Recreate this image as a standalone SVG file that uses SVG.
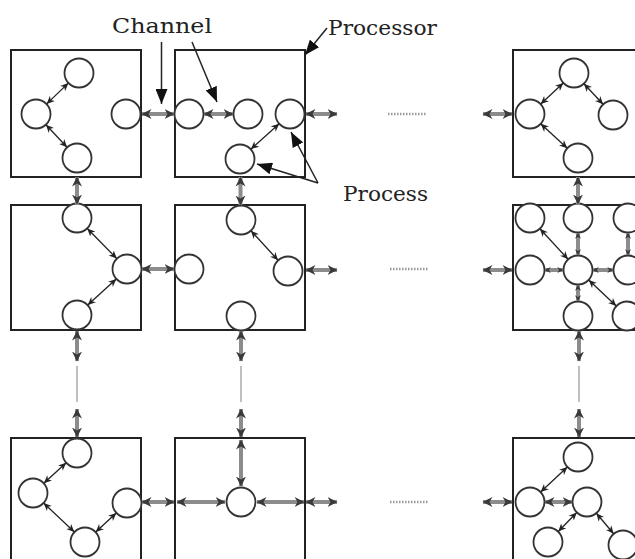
<svg xmlns="http://www.w3.org/2000/svg" width="635" height="559" viewBox="0 0 635 559">
<style>
.box{fill:none;stroke:#222;stroke-width:2}
.pr{fill:#fff;stroke:#333;stroke-width:1.8}
.th{stroke:#222;stroke-width:1.3;fill:none;marker-start:url(#mth);marker-end:url(#mth)}
.ch{stroke:#8c8c8c;stroke-width:4;fill:none;marker-start:url(#mch);marker-end:url(#mch)}
.cs{stroke:#8c8c8c;stroke-width:4;fill:none;marker-start:url(#mcs);marker-end:url(#mcs)}
.an{stroke:#222;stroke-width:1.5;fill:none;marker-end:url(#man)}
.dots{stroke:#9a9a9a;stroke-width:2.5;stroke-dasharray:1.5 1.5;fill:none}
.cont{stroke:#aaa;stroke-width:1.5;fill:none}
.lbl{font-family:"DejaVu Serif","Liberation Serif",serif;font-size:21px;fill:#222}
</style>
<defs>
<marker id="mth" viewBox="0 0 10 10" refX="9.5" refY="5" markerWidth="8" markerHeight="8" markerUnits="userSpaceOnUse" orient="auto-start-reverse"><path d="M0,0.5 L10,5 L0,9.5 L3,5 z" fill="#222"/></marker>
<marker id="mch" viewBox="0 0 10 10" refX="9.5" refY="5" markerWidth="10" markerHeight="11" markerUnits="userSpaceOnUse" orient="auto-start-reverse"><path d="M0,0 L10,5 L0,10 L3,5 z" fill="#3a3a3a"/></marker>
<marker id="mcs" viewBox="0 0 10 10" refX="9.5" refY="5" markerWidth="6" markerHeight="9" markerUnits="userSpaceOnUse" orient="auto-start-reverse"><path d="M0,0 L10,5 L0,10 L3,5 z" fill="#3a3a3a"/></marker>
<marker id="man" viewBox="0 0 15 12" refX="15" refY="6" markerWidth="15" markerHeight="12" markerUnits="userSpaceOnUse" orient="auto"><path d="M0,0 L15,6 L0,12 z" fill="#111"/></marker>
</defs>
<rect width="635" height="559" fill="#fff"/>

<g id="labels">
<text class="lbl" x="112" y="33" textLength="100" lengthAdjust="spacingAndGlyphs">Channel</text>
<text class="lbl" x="328" y="35" textLength="109" lengthAdjust="spacingAndGlyphs">Processor</text>
<text class="lbl" x="343" y="201" textLength="85" lengthAdjust="spacingAndGlyphs">Process</text>
</g>

<g id="proc-1-1"><rect class="box" x="11" y="50" width="130" height="127"/>
<g id="p111"><circle class="pr" cx="79" cy="73" r="14.5"/></g>
<g id="p112"><circle class="pr" cx="36" cy="114" r="14.5"/></g>
<g id="p113"><circle class="pr" cx="126" cy="114" r="14.5"/></g>
<g id="p114"><circle class="pr" cx="77" cy="158" r="14.5"/></g>
</g>
<g id="proc-1-2"><rect class="box" x="175" y="50" width="130" height="127"/>
<g id="p121"><circle class="pr" cx="189" cy="114" r="14.5"/></g>
<g id="p122"><circle class="pr" cx="248" cy="114" r="14.5"/></g>
<g id="p123"><circle class="pr" cx="290" cy="114" r="14.5"/></g>
<g id="p124"><circle class="pr" cx="240" cy="159" r="14.5"/></g>
</g>
<g id="proc-1-3"><rect class="box" x="513" y="50" width="130" height="127"/>
<g id="p131"><circle class="pr" cx="574" cy="73" r="14.5"/></g>
<g id="p132"><circle class="pr" cx="530" cy="114" r="14.5"/></g>
<g id="p133"><circle class="pr" cx="613" cy="115" r="14.5"/></g>
<g id="p134"><circle class="pr" cx="578" cy="158" r="14.5"/></g>
</g>

<g id="proc-2-1"><rect class="box" x="11" y="205" width="130" height="125"/>
<g id="p211"><circle class="pr" cx="77" cy="218" r="14.5"/></g>
<g id="p212"><circle class="pr" cx="127" cy="269" r="14.5"/></g>
<g id="p213"><circle class="pr" cx="77" cy="315" r="14.5"/></g>
</g>
<g id="proc-2-2"><rect class="box" x="175" y="205" width="130" height="125"/>
<g id="p221"><circle class="pr" cx="189" cy="269" r="14.5"/></g>
<g id="p222"><circle class="pr" cx="241" cy="220" r="14.5"/></g>
<g id="p223"><circle class="pr" cx="288" cy="271" r="14.5"/></g>
<g id="p224"><circle class="pr" cx="241" cy="316" r="14.5"/></g>
</g>
<g id="proc-2-3"><rect class="box" x="513" y="205" width="130" height="125"/>
<g id="p231"><circle class="pr" cx="530" cy="218" r="14.5"/></g>
<g id="p232"><circle class="pr" cx="578" cy="218" r="14.5"/></g>
<g id="p233"><circle class="pr" cx="628" cy="218" r="14.5"/></g>
<g id="p234"><circle class="pr" cx="530" cy="270" r="14.5"/></g>
<g id="p235"><circle class="pr" cx="578" cy="270" r="14.5"/></g>
<g id="p236"><circle class="pr" cx="628" cy="270" r="14.5"/></g>
<g id="p237"><circle class="pr" cx="578" cy="316" r="14.5"/></g>
<g id="p238"><circle class="pr" cx="627" cy="316" r="14.5"/></g>
</g>

<g id="proc-3-1"><rect class="box" x="11" y="438" width="130" height="127"/>
<g id="p311"><circle class="pr" cx="77" cy="453" r="14.5"/></g>
<g id="p312"><circle class="pr" cx="33" cy="493" r="14.5"/></g>
<g id="p313"><circle class="pr" cx="127" cy="503" r="14.5"/></g>
<g id="p314"><circle class="pr" cx="85" cy="542" r="14.5"/></g>
</g>
<g id="proc-3-2"><rect class="box" x="175" y="438" width="130" height="127"/>
<g id="p321"><circle class="pr" cx="241" cy="502" r="14.5"/></g>
</g>
<g id="proc-3-3"><rect class="box" x="513" y="438" width="130" height="127"/>
<g id="p331"><circle class="pr" cx="578" cy="457" r="14.5"/></g>
<g id="p332"><circle class="pr" cx="530" cy="502" r="14.5"/></g>
<g id="p333"><circle class="pr" cx="587" cy="502" r="14.5"/></g>
<g id="p334"><circle class="pr" cx="548" cy="542" r="14.5"/></g>
<g id="p335"><circle class="pr" cx="623" cy="545" r="14.5"/></g>
</g>

<g id="connectors">
<line class="th" x1="68.1" y1="83.4" x2="46.9" y2="103.6"/>
<line class="th" x1="46.2" y1="125" x2="66.8" y2="147"/>
<line class="ch" x1="142" y1="114" x2="174" y2="114"/>
<line class="ch" x1="204" y1="114" x2="233" y2="114"/>
<line class="th" x1="278.9" y1="124" x2="251.1" y2="149"/>
<line class="ch" x1="306" y1="114" x2="337" y2="114"/>
<line class="th" x1="563" y1="83.2" x2="541" y2="103.8"/>
<line class="th" x1="584.2" y1="84" x2="602.8" y2="104"/>
<line class="th" x1="541" y1="124.1" x2="567" y2="147.9"/>
<line class="ch" x1="483" y1="114" x2="512" y2="114"/>
<line class="ch" x1="77" y1="177" x2="77" y2="204"/>
<line class="ch" x1="240.5" y1="177" x2="240.5" y2="205"/>
<line class="ch" x1="578" y1="177" x2="578" y2="204"/>
<line class="th" x1="87.5" y1="228.7" x2="116.5" y2="258.3"/>
<line class="th" x1="116" y1="279.2" x2="88" y2="304.8"/>
<line class="ch" x1="142" y1="269" x2="174" y2="269"/>
<line class="th" x1="251.2" y1="231" x2="277.8" y2="260"/>
<line class="ch" x1="306" y1="270" x2="337" y2="270"/>
<line class="ch" x1="483" y1="270" x2="512" y2="270"/>
<line class="th" x1="540.2" y1="229" x2="567.8" y2="259"/>
<line class="th" x1="589" y1="280.3" x2="616" y2="305.7"/>
<line class="cs" x1="545" y1="270" x2="563" y2="270"/>
<line class="cs" x1="593" y1="270" x2="613" y2="270"/>
<line class="cs" x1="578" y1="233" x2="578" y2="255"/>
<line class="cs" x1="578" y1="285" x2="578" y2="301"/>
<line class="cs" x1="628" y1="233" x2="628" y2="255"/>
<line class="ch" x1="77" y1="331" x2="77" y2="361"/>
<line class="cont" x1="77" y1="366" x2="77" y2="402"/>
<line class="ch" x1="77" y1="409" x2="77" y2="437"/>
<line class="ch" x1="241" y1="331" x2="241" y2="361"/>
<line class="cont" x1="241" y1="366" x2="241" y2="402"/>
<line class="ch" x1="241" y1="409" x2="241" y2="437"/>
<line class="ch" x1="579" y1="331" x2="579" y2="361"/>
<line class="cont" x1="579" y1="366" x2="579" y2="402"/>
<line class="ch" x1="579" y1="409" x2="579" y2="437"/>
<line class="th" x1="65.9" y1="463.1" x2="44.1" y2="482.9"/>
<line class="th" x1="43.9" y1="503.3" x2="74.1" y2="531.7"/>
<line class="th" x1="96" y1="531.8" x2="116" y2="513.2"/>
<line class="ch" x1="142" y1="502" x2="174" y2="502"/>
<line class="ch" x1="241" y1="440" x2="241" y2="486"/>
<line class="ch" x1="177" y1="502" x2="225" y2="502"/>
<line class="ch" x1="257" y1="502" x2="304" y2="502"/>
<line class="ch" x1="306" y1="502" x2="337" y2="502"/>
<line class="ch" x1="483" y1="502" x2="512" y2="502"/>
<line class="th" x1="567.1" y1="467.3" x2="540.9" y2="491.7"/>
<line class="ch" x1="545" y1="502" x2="572" y2="502"/>
<line class="th" x1="576.5" y1="512.7" x2="558.5" y2="531.3"/>
<line class="th" x1="596.6" y1="513.5" x2="613.4" y2="533.5"/>
<line class="dots" x1="388" y1="114" x2="426" y2="114"/>
<line class="dots" x1="390" y1="269" x2="428" y2="269"/>
<line class="dots" x1="390" y1="502" x2="428" y2="502"/>
<line class="an" x1="161.5" y1="42" x2="161.5" y2="104"/>
<line class="an" x1="192" y1="42" x2="217" y2="102"/>
<line class="an" x1="327" y1="28" x2="305" y2="55"/>
<line class="an" x1="318" y1="183" x2="291" y2="132"/>
<line class="an" x1="318" y1="183" x2="257" y2="164"/>
</g>
</svg>
